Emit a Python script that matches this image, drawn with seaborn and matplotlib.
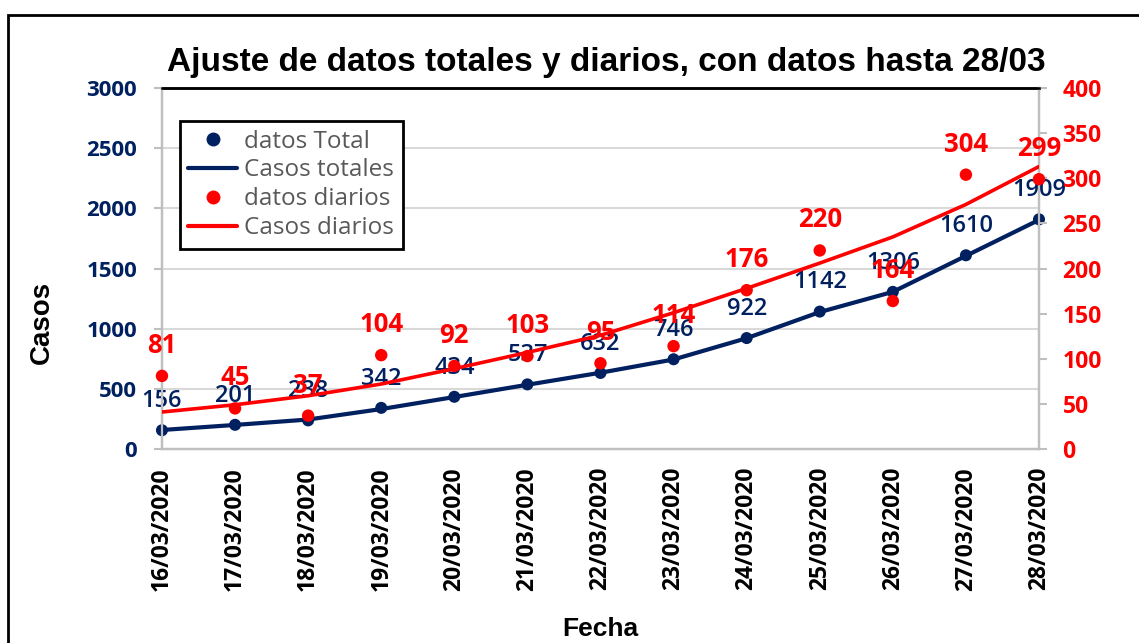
import matplotlib
matplotlib.use("Agg")

import matplotlib.pyplot as plt
import pandas as pd
import seaborn as sns
from matplotlib.lines import Line2D
from matplotlib.patches import Rectangle


DATES = [
    "16/03/2020", "17/03/2020", "18/03/2020", "19/03/2020", "20/03/2020",
    "21/03/2020", "22/03/2020", "23/03/2020", "24/03/2020", "25/03/2020",
    "26/03/2020", "27/03/2020", "28/03/2020",
]
TOTAL_DATA = [156, 201, 238, 342, 434, 537, 632, 746, 922, 1142, 1306, 1610, 1909]
TOTAL_FIT = [158, 200, 245, 332, 432, 534, 634, 744, 921, 1138, 1306, 1605, 1904]
DAILY_DATA = [81, 45, 37, 104, 92, 103, 95, 114, 176, 220, 164, 304, 299]
DAILY_FIT = [41, 49, 59, 72, 89, 107, 126, 151, 178, 206, 235, 271, 313]

LEFT_TICKS = [0, 500, 1000, 1500, 2000, 2500, 3000]
RIGHT_TICKS = [0, 50, 100, 150, 200, 250, 300, 350, 400]

NAVY = "#002060"
RED = "#FF0000"
SPINE_GREY = "#BFBFBF"
GRID_GREY = "#D9D9D9"

df = pd.DataFrame({
    "pos": range(len(DATES)),
    "fecha": DATES,
    "total": TOTAL_DATA,
    "total_fit": TOTAL_FIT,
    "diario": DAILY_DATA,
    "diario_fit": DAILY_FIT,
})

sns.set_theme(style="white")
plt.rcParams["font.family"] = ["Open Sans", "DejaVu Sans"]

fig = plt.figure(figsize=(11.39, 6.43), dpi=100)
ax = fig.add_axes([0.1422, 0.3017, 0.7700, 0.5614])
ax2 = ax.twinx()

# totals on the left axis
sns.lineplot(data=df, x="pos", y="total_fit", color=NAVY, linewidth=3, ax=ax, zorder=3)
sns.scatterplot(data=df, x="pos", y="total", color=NAVY, s=75, edgecolor="none",
                ax=ax, zorder=4, clip_on=False)
# daily on the right axis
sns.lineplot(data=df, x="pos", y="diario_fit", color=RED, linewidth=2.6, ax=ax2, zorder=3)
sns.scatterplot(data=df, x="pos", y="diario", color=RED, s=80, edgecolor="none",
                ax=ax2, zorder=4, clip_on=False)

for i, v in enumerate(TOTAL_DATA):
    ax.annotate(str(v), (i, v), xytext=(0, 21), textcoords="offset points",
                ha="center", va="center", color=NAVY, fontsize=17,
                fontweight="semibold", annotation_clip=False, zorder=5)
for i, v in enumerate(DAILY_DATA):
    ax2.annotate(str(v), (i, v), xytext=(0, 22), textcoords="offset points",
                 ha="center", va="center", color=RED, fontsize=18.5,
                 fontweight="bold", annotation_clip=False, zorder=5)

ax.set_xlim(0, len(DATES) - 1)
ax.set_ylim(0, 3000)
ax2.set_ylim(0, 400)
ax.set_xticks(df["pos"])
ax.set_xticklabels(DATES, rotation=90, fontsize=16.5, fontweight="bold", color="black")
ax.set_yticks(LEFT_TICKS)
ax.set_yticklabels([str(t) for t in LEFT_TICKS], fontsize=16, fontweight="bold", color=NAVY)
ax2.set_yticks(RIGHT_TICKS)
ax2.set_yticklabels([str(t) for t in RIGHT_TICKS], fontsize=16.5, fontweight="bold", color=RED)

ax.yaxis.grid(True, color=GRID_GREY, linewidth=1.5)
ax.xaxis.grid(False)
ax.set_axisbelow(True)

for a in (ax, ax2):
    for side in ("left", "right", "bottom"):
        a.spines[side].set_color(SPINE_GREY)
        a.spines[side].set_linewidth(1.6)
    a.spines["top"].set_color("black")
    a.spines["top"].set_linewidth(1.8)
ax.tick_params(axis="y", direction="out", length=6, width=1.5, color=SPINE_GREY, pad=12)
ax.tick_params(axis="x", direction="out", length=6, width=1.5, color=SPINE_GREY, pad=7)
ax2.tick_params(axis="y", direction="out", length=6, width=1.5, color=SPINE_GREY, pad=11)

ax.set_ylabel("Casos", fontsize=20, fontweight="bold", family="Liberation Sans", color="black")
ax.yaxis.set_label_coords(-0.122, 0.35)
ax.set_xlabel("Fecha", fontsize=19, fontweight="bold", family="Liberation Sans", color="black")
ax.xaxis.set_label_coords(0.5, -0.465)
ax2.set_ylabel("")
ax2.set_xlabel("")

fig.text(0.532, 0.903, "Ajuste de datos totales y diarios, con datos hasta 28/03",
         ha="center", va="center", fontsize=24, fontweight="bold",
         family="Liberation Sans", color="black")

handles = [
    Line2D([], [], linestyle="none", marker="o", markersize=9, color=NAVY),
    Line2D([], [], color=NAVY, linewidth=3),
    Line2D([], [], linestyle="none", marker="o", markersize=9, color=RED),
    Line2D([], [], color=RED, linewidth=3),
]
labels = ["datos Total", "Casos totales", "datos diarios", "Casos diarios"]
leg = ax2.legend(handles, labels, loc="upper left", bbox_to_anchor=(0.0205, 0.9086),
                 borderaxespad=0, fontsize=17.5, frameon=True, fancybox=False,
                 framealpha=1, edgecolor="black", handlelength=2.0, handletextpad=0.3,
                 labelspacing=0.2, borderpad=0.35, labelcolor="#595959")
leg.get_frame().set_linewidth(2)

# outer chart frame
fig.patches.append(Rectangle((0.007, -0.05), 1.1, 0.0267 + 1.0, transform=fig.transFigure,
                             fill=False, edgecolor="black", linewidth=2))

fig.savefig("out.png", dpi=100)
plt.close(fig)
